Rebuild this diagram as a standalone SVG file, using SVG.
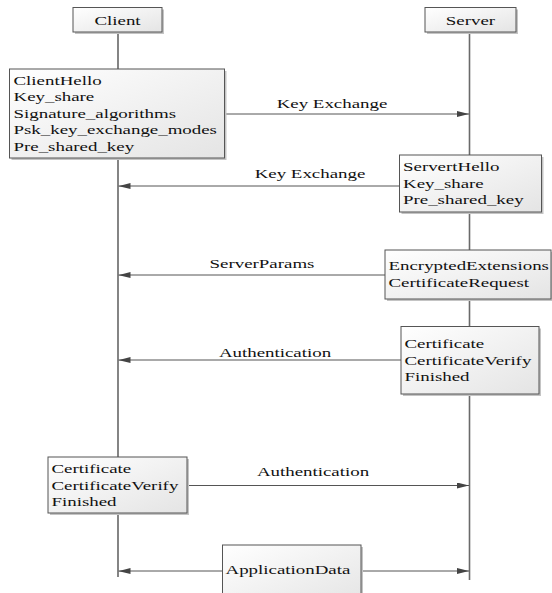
<svg xmlns="http://www.w3.org/2000/svg" width="552" height="593" viewBox="0 0 552 593">
<style>
.bx{fill:url(#g);stroke:#555;stroke-width:1}
.sh{fill:#c4c4c4}
.t{font-family:"Liberation Serif","Times New Roman",serif;font-size:13.5px;fill:#111}
.m{text-anchor:middle}
.ln{stroke:#555;stroke-width:1;fill:none}
.lc{stroke:#333;stroke-width:1.2;fill:none}
.ls{stroke:#6a6a6a;stroke-width:1.6;fill:none}
</style>
<defs>
<linearGradient id="g" x1="0" y1="0" x2="1" y2="1">
<stop offset="0" stop-color="#ffffff"/>
<stop offset="1" stop-color="#e4e4e4"/>
</linearGradient>
<marker id="a" viewBox="0 0 12 6" refX="12" refY="3" markerWidth="12" markerHeight="6" markerUnits="userSpaceOnUse" orient="auto">
<path d="M0,0 L12,3 L0,6 Z" fill="#444"/>
</marker>
</defs>
<g id="lifelines">
<line class="lc" x1="118" y1="32" x2="118" y2="577"/>
<line class="ls" x1="469.5" y1="32" x2="469.5" y2="580"/>
</g>
<g id="client">
<rect class="sh" x="75" y="9.5" width="89" height="24.5"/>
<rect class="bx" x="73" y="7.5" width="89" height="24.5"/>
<text class="t m" font-family="Liberation Serif, serif" transform="translate(117.5 24.5) scale(1.4 1)">Client</text>
</g>
<g id="server">
<rect class="sh" x="427" y="9.5" width="91" height="24.5"/>
<rect class="bx" x="425" y="7.5" width="91" height="24.5"/>
<text class="t m" transform="translate(470.5 24.5) scale(1.4 1)">Server</text>
</g>
<g id="connectors">
<line class="ln" x1="224.5" y1="114" x2="469" y2="114" marker-end="url(#a)"/>
<line class="ln" x1="399.5" y1="186" x2="118.5" y2="186" marker-end="url(#a)"/>
<line class="ln" x1="385" y1="275" x2="118.5" y2="275" marker-end="url(#a)"/>
<line class="ln" x1="401" y1="360" x2="118.5" y2="360" marker-end="url(#a)"/>
<line class="ln" x1="187" y1="485.5" x2="469" y2="485.5" marker-end="url(#a)"/>
<line class="ln" x1="222.5" y1="571" x2="118.5" y2="571" marker-end="url(#a)"/>
<line class="ln" x1="361" y1="571" x2="469" y2="571" marker-end="url(#a)"/>
<text class="t m" transform="translate(332 107.5) scale(1.4 1)">Key Exchange</text>
<text class="t m" transform="translate(310 177.5) scale(1.4 1)">Key Exchange</text>
<text class="t m" transform="translate(262 267.5) scale(1.4 1)">ServerParams</text>
<text class="t m" transform="translate(275 357) scale(1.4 1)">Authentication</text>
<text class="t m" transform="translate(313 476) scale(1.4 1)">Authentication</text>
</g>
<g id="clienthello">
<rect class="sh" x="11.5" y="71" width="215" height="89"/>
<rect class="bx" x="9.5" y="69" width="215" height="89"/>
<text class="t" transform="translate(13.5 84.5) scale(1.4 1)">ClientHello</text>
<text class="t" transform="translate(13.5 101) scale(1.4 1)">Key_share</text>
<text class="t" transform="translate(13.5 117.5) scale(1.4 1)">Signature_algorithms</text>
<text class="t" transform="translate(13.5 134) scale(1.4 1)">Psk_key_exchange_modes</text>
<text class="t" transform="translate(13.5 150.5) scale(1.4 1)">Pre_shared_key</text>
</g>
<g id="serverhello">
<rect class="sh" x="401.5" y="157" width="142" height="57"/>
<rect class="bx" x="399.5" y="155" width="142" height="57"/>
<text class="t" transform="translate(403 171) scale(1.4 1)">ServertHello</text>
<text class="t" transform="translate(403 187.5) scale(1.4 1)">Key_share</text>
<text class="t" transform="translate(403 204) scale(1.4 1)">Pre_shared_key</text>
</g>
<g id="serverparams">
<rect class="sh" x="387" y="252" width="166" height="49"/>
<rect class="bx" x="385" y="250" width="166" height="49"/>
<text class="t" transform="translate(388.5 270) scale(1.4 1)">EncryptedExtensions</text>
<text class="t" transform="translate(388.5 287) scale(1.4 1)">CertificateRequest</text>
</g>
<g id="serverauth">
<rect class="sh" x="403" y="328.5" width="138" height="67.5"/>
<rect class="bx" x="401" y="326.5" width="138" height="67.5"/>
<text class="t" transform="translate(404.5 347.5) scale(1.4 1)">Certificate</text>
<text class="t" transform="translate(404.5 364.5) scale(1.4 1)">CertificateVerify</text>
<text class="t" transform="translate(404.5 381) scale(1.4 1)">Finished</text>
</g>
<g id="clientauth">
<rect class="sh" x="50" y="459" width="139" height="56"/>
<rect class="bx" x="48" y="457" width="139" height="56"/>
<text class="t" transform="translate(51.5 473) scale(1.4 1)">Certificate</text>
<text class="t" transform="translate(51.5 490) scale(1.4 1)">CertificateVerify</text>
<text class="t" transform="translate(51.5 505.5) scale(1.4 1)">Finished</text>
</g>
<g id="appdata">
<rect class="sh" x="224.5" y="547" width="138.5" height="60"/>
<rect class="bx" x="222.5" y="545" width="138.5" height="60"/>
<text class="t" transform="translate(225.5 573.5) scale(1.4 1)">ApplicationData</text>
</g>
</svg>
